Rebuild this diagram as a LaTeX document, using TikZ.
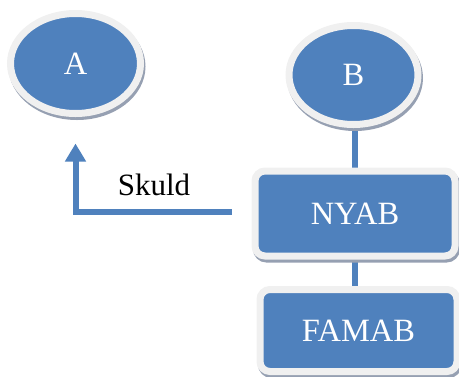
\documentclass[tikz,border=0pt]{standalone}
\usepackage{fontspec}
\setmainfont{Liberation Serif}
\usetikzlibrary{arrows.meta,shapes.geometric,backgrounds}

\definecolor{boxblue}{RGB}{79,129,189}
\definecolor{ringgray}{RGB}{240,240,240}
\definecolor{shadegray}{RGB}{150,160,178}

\tikzset{
blobstyle/.style={
  fill=boxblue,
  draw=ringgray,
  line width=7pt,
  text=white,
  inner sep=0pt,
  font=\fontsize{32.5}{32.5}\selectfont,
  preaction={draw=shadegray, fill=shadegray, transform canvas={xshift=1.5pt,yshift=-3pt}},
  }
}
\tikzset{
linkline/.style={
  line width=6pt,
  draw=boxblue,
  }
}

\begin{document}
\begin{tikzpicture}[x=1pt,y=-1pt]
    \useasboundingbox (0,0) rectangle (459,376);

    % owners
    \node[blobstyle, ellipse, minimum width=130pt, minimum height=100pt] (A) at (75.5,63.5) {A};
    \node[blobstyle, ellipse, minimum width=129pt, minimum height=99pt] (B) at (353.5,75) {B};

    % companies
    \node[blobstyle, rectangle, rounded corners=10pt, minimum width=200pt, minimum height=85pt] (nyab) at (355,213.5) {NYAB};
    \node[blobstyle, rectangle, rounded corners=10pt, minimum width=197pt, minimum height=82pt] (famab) at (358.5,330.5) {FAMAB};

    % text on the arrow
    \node[anchor=base, font=\fontsize{31}{31}\selectfont] (skuld) at (154,195) {Skuld};

    % links
    \begin{pgfonlayer}{background}
    \draw[linkline] (B.south) -- (B.south -| nyab.north) -- (nyab.north);
    \draw[linkline] (nyab.south) -- (nyab.south |- famab.north);
    \end{pgfonlayer}
    \draw[linkline, -{Triangle[width=20pt,length=18pt]}, shorten <=20pt, shorten >=26.5pt] ([yshift=1.5pt]nyab.west) -| (A.south);
\end{tikzpicture}
\end{document}
